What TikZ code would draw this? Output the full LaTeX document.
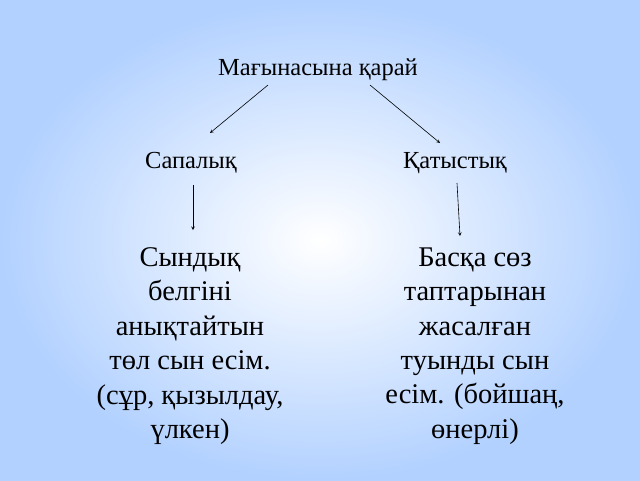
\documentclass[tikz,border=0pt]{standalone}
\usepackage{fontspec}
\setmainfont{Liberation Serif}
\begin{document}
\begin{tikzpicture}[x=1pt,y=-1pt,
  head/.style={font=\fontsize{24.5}{28}\selectfont},
  body/.style={font=\fontsize{28.5}{34.4}\selectfont,align=center},
  arr/.style={-stealth,semithick,black}]
\shade[inner color=white,middle color=white,outer color=cyan!40!blue!30] (0,0) rectangle (640,480);
\useasboundingbox (0,0) rectangle (640,480);
\node[head] (t) at (318,70) {Мағынасына қарай};
\node[head] (s) at (191,163) {Сапалық};
\node[head] (q) at (455,163) {Қатыстық};
\node[body] (l) at (190,346) {Сындық\\белгіні\\анықтайтын\\төл сын есім.\\(сұр, қызылдау,\\үлкен)};
\node[body] (r) at (475,346) {Басқа сөз\\таптарынан\\жасалған\\туынды сын\\есім. (бойшаң,\\өнерлі)};
\coordinate (a1) at (268,85); \coordinate (a2) at (210,133);
\coordinate (b1) at (370,85); \coordinate (b2) at (440,143);
\coordinate (c1) at (193,185); \coordinate (c2) at (193,230);
\coordinate (d1) at (457,183); \coordinate (d2) at (460,236);
\draw[arr] (a1) -- (a2);
\draw[arr] (b1) -- (b2);
\draw[arr] (c1) -- (c2);
\draw[arr] (d1) -- (d2);
\end{tikzpicture}
\end{document}
